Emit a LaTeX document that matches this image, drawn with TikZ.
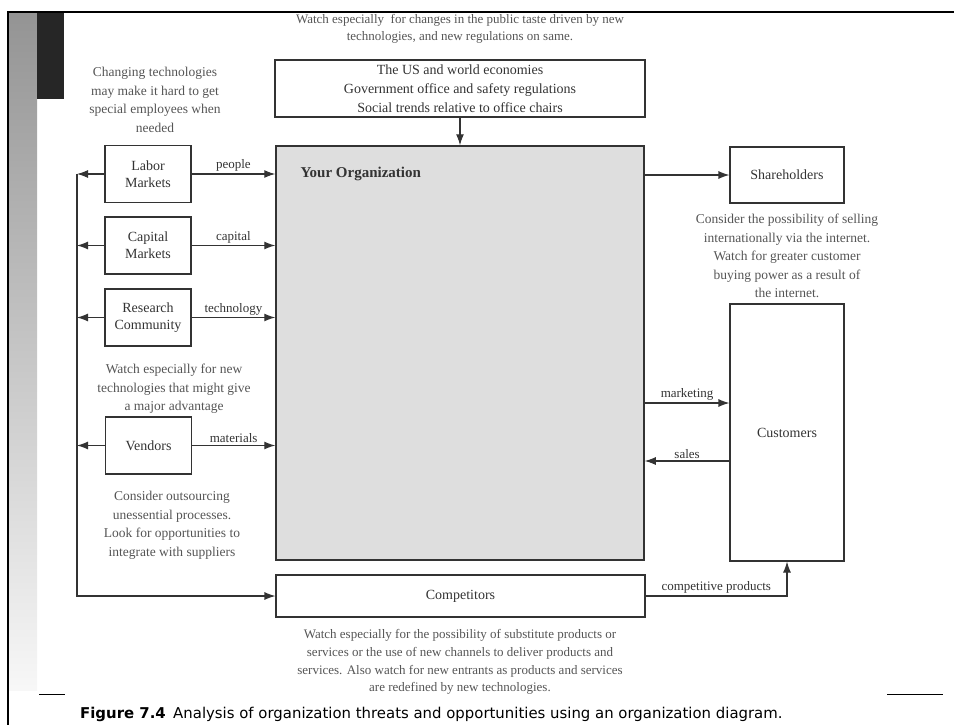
\documentclass[tikz,border=0pt]{standalone}
\usepackage{fontspec}
\setmainfont{Liberation Serif}
\newfontfamily\capfont{DejaVu Sans}
\usepackage{tikz}
\usetikzlibrary{positioning,arrows.meta}
\definecolor{ink}{HTML}{333333}
\definecolor{notegray}{HTML}{555555}
\definecolor{orgfill}{HTML}{DEDEDE}

\begin{document}
\begin{tikzpicture}[
    x=1pt, y=-1pt,
    >={Latex[length=11pt,width=8pt]},
    font=\fontsize{14}{17}\selectfont,
    box/.style={draw=ink, line width=1.1pt, align=center, text=ink, inner sep=0pt},
    side/.style={box, minimum width=86pt, minimum height=57pt},
    conn/.style={draw=ink, line width=1.1pt},
    note/.style={align=center, text=notegray, inner sep=0pt, font=\fontsize{13.5}{18.5}\selectfont},
    lbl/.style={above, text=ink, inner sep=2pt, font=\fontsize{13}{15}\selectfont},
  ]
    \useasboundingbox (0,0) rectangle (954,725);

    % ---------- slide frame ----------
    \shade[top color=black!42, bottom color=black!3] (9,13) rectangle (37,690);
    \fill[black!85] (37,13) rectangle (64,99);
    \draw[line width=2.4pt] (954,12) -- (8,12) -- (8,725);
    \draw[line width=1pt] (39,694) -- (65,694);
    \draw[line width=1pt] (887,694) -- (943,694);

    % ---------- environment ----------
    \node[note, font=\fontsize{13}{17}\selectfont] (envnote) at (460,29)
      {Watch especially \ for changes in the public taste driven by new\\
       technologies, and new regulations on same.};
    \node[box, minimum width=370pt, minimum height=57pt, font=\fontsize{14}{19}\selectfont] (env) at (460,88.5)
      {The US and world economies\\
       Government office and safety regulations\\
       Social trends relative to office chairs};

    % ---------- organization ----------
    \node[box, fill=orgfill, line width=1.5pt, minimum width=368pt, minimum height=414pt] (org) at (460,353) {};
    \node[anchor=west, text=ink, font=\fontsize{15}{17}\selectfont\bfseries] (orgname) at (297,174) {Your Organization};
    \draw[conn,->] (env.south) -- (org.north);

    % ---------- inputs ----------
    \node[note] (labornote) at (155,100)
      {Changing technologies\\may make it hard to get\\special employees when\\needed};
    \node[side] (labor)    at (148,174)   {Labor\\Markets};
    \node[side] (capital)  at (148,245.5) {Capital\\Markets};
    \node[side] (research) at (148,317.5) {Research\\Community};
    \node[note] (researchnote) at (174,389)
      {Watch especially for new\\technologies that might give\\a major advantage};
    \node[side] (vendors)  at (148.5,445.5) {Vendors};
    \node[note] (vendornote) at (172,525.5)
      {Consider outsourcing\\unessential processes.\\Look for opportunities to\\integrate with suppliers};
    \foreach \n/\t in {labor/people, capital/capital, research/technology, vendors/materials}
      \draw[conn,->] (\n.east) -- node[lbl] {\t} (\n.east -| org.west);

    % ---------- rail to competitors ----------
    \coordinate (rail) at (77,0);
    \foreach \n in {labor,capital,research,vendors}
      \draw[conn,->] (\n.west) -- (\n.west -| rail);
    \node[box, minimum width=369pt, minimum height=42pt] (comp) at (460.5,596) {Competitors};
    \draw[conn,->] (labor.west -| rail) |- (comp.west);
    \node[note, font=\fontsize{13}{17.8}\selectfont] (compnote) at (460,662)
      {Watch especially for the possibility of substitute products or\\
       services or the use of new channels to deliver products and\\
       services. Also watch for new entrants as products and services\\
       are redefined by new technologies.};

    % ---------- outputs ----------
    \node[box, minimum width=114pt, minimum height=56pt] (share) at (787,175) {Shareholders};
    \draw[conn,->] (org.east |- share) -- (share.west);
    \node[note] (sharenote) at (787,256)
      {Consider the possibility of selling\\internationally via the internet.\\
       Watch for greater customer\\buying power as a result of\\the internet.};
    \node[box, minimum width=114pt, minimum height=257pt] (cust) at (787,432.5) {Customers};
    \coordinate (mkt) at (0,403);
    \coordinate (sls) at (0,461);
    \draw[conn,->] (org.east |- mkt) -- node[lbl] {marketing} (cust.west |- mkt);
    \draw[conn,->] (cust.west |- sls) -- node[lbl] {sales} (org.east |- sls);
    \draw[conn,->] (comp.east) -| node[lbl, pos=0.25] {competitive products} (cust.south);

    % ---------- caption ----------
    \node[anchor=base west, inner sep=0pt, font=\capfont\fontsize{14.9}{17}\selectfont] (caption) at (80,718)
      {\textbf{Figure 7.4}\enspace Analysis of organization threats and opportunities using an organization diagram.};
  \end{tikzpicture}
\end{document}
